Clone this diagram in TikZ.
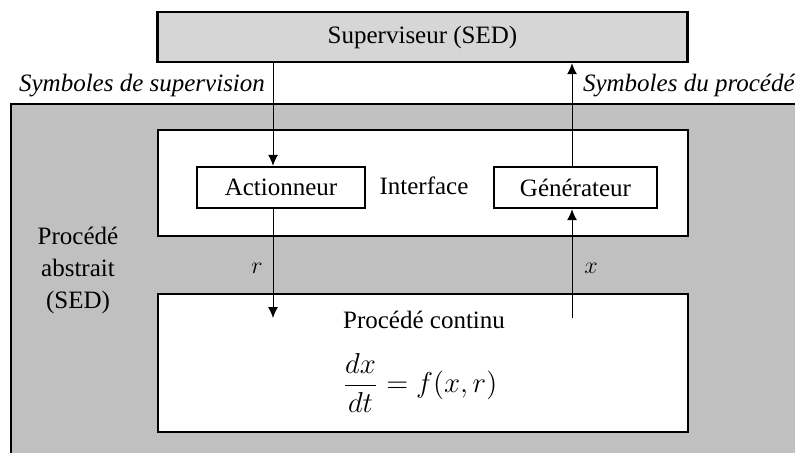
\documentclass[tikz,border=0pt]{standalone}
\usepackage{fontspec}
\usepackage{amsmath}
\setmainfont{Liberation Serif}
\usetikzlibrary{arrows.meta}
\definecolor{supgray}{RGB}{214,214,214}
\definecolor{absgray}{RGB}{192,192,192}

\begin{document}
\begin{tikzpicture}[x=0.5pt,y=-0.5pt]
        \tikzstyle{every node} = [rectangle, font=\fontsize{12.5}{14}\selectfont]
        \tikzstyle{bigbox} = [draw, line width=1.2pt, minimum width=265pt]
        \tikzstyle{smallbox} = [draw, line width=1.2pt, minimum height=20.5pt]
        \tikzstyle{flow} = [-{Latex[length=5.5pt,width=5pt]}, line width=0.5pt]
        \clip (0,0) rectangle (795,452);
        \filldraw[fill=absgray, line width=1.2pt] (11,104) rectangle (830,480);
        \node[bigbox, fill=supgray, minimum height=25pt] (sup) at (422.5,37) {Superviseur (SED)};
        \node[bigbox, fill=white, minimum height=53pt] (iface) at (423,183) {};
        \node (ifacelabel) at (424,186) {Interface};
        \node[smallbox, fill=white, minimum width=84pt] (act) at (281,187.5) {Actionneur};
        \node[smallbox, fill=white, minimum width=81.5pt] (gen) at (575.5,187.5) {Générateur};
        \node[bigbox, fill=white, minimum height=69pt] (proc) at (423,363) {};
        \node (proclabel) at (424,320) {Procédé continu};
        \node[font=\fontsize{14}{16}\selectfont] (eqn) at (420,383) {$\displaystyle\frac{dx}{dt} = f(x,r)$};
        \node[align=center, font=\fontsize{12.5}{16}\selectfont] (abs) at (78,270) {Procédé\\abstrait\\(SED)};
        \node[anchor=east, font=\fontsize{12.5}{14}\selectfont\itshape] (cmdlabel) at (272,86) {Symboles de supervision};
        \node[anchor=west, font=\fontsize{12.5}{14}\selectfont\itshape] (measlabel) at (576,86) {Symboles du procédé};
        \node (rlabel) at (257,268) {$r$};
        \node (xlabel) at (591,268) {$x$};
        \coordinate (cmd) at (273,318);
        \coordinate (meas) at (572,318);
        \foreach \from/\to in {sup.south -| cmd/act.north -| cmd, act.south -| cmd/cmd,
                               gen.north -| meas/sup.south -| meas, meas/gen.south -| meas}
            \draw[flow] (\from) -- (\to);
    \end{tikzpicture}
\end{document}
